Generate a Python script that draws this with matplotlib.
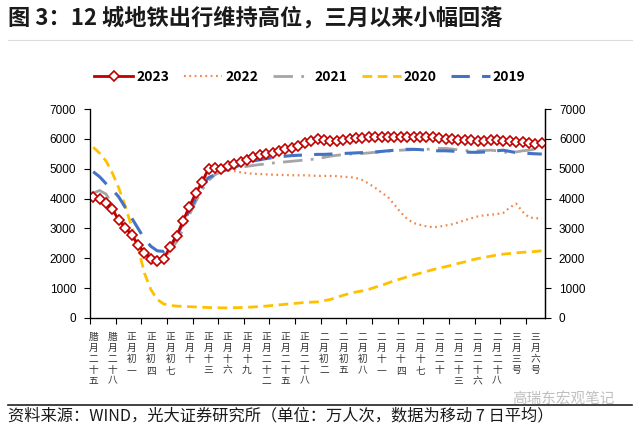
import matplotlib
matplotlib.use("Agg")
import matplotlib.pyplot as plt
from matplotlib.lines import Line2D
import numpy as np

plt.rcParams['font.family'] = ['Noto Sans CJK SC', 'DejaVu Sans']

x_labels = ["腊月二十五", "腊月二十八", "正月初一", "正月初四", "正月初七", "正月十",
            "正月十三", "正月十六", "正月十九", "正月二十二", "正月二十五", "正月二十八",
            "二月初二", "二月初五", "二月初八", "二月十一", "二月十四", "二月十七",
            "二月二十", "二月二十三", "二月二十六", "二月二十八", "三月三号", "三月六号"]

s2023 = [4050, 3970, 3840, 3640, 3270, 3030, 2770, 2460, 2180, 1980,
         1900, 1980, 2380, 2740, 3240, 3730, 4180, 4560, 5000, 5040,
         4980, 5090, 5150, 5230, 5300, 5380, 5460, 5490, 5520, 5600,
         5660, 5710, 5770, 5860, 5930, 5990, 5960, 5930, 5940, 5960,
         6000, 6020, 6040, 6050, 6050, 6060, 6060, 6060, 6060, 6060,
         6070, 6070, 6070, 6060, 6030, 6000, 5980, 5960, 5950, 5950,
         5940, 5940, 5950, 5950, 5930, 5920, 5910, 5900, 5850, 5820,
         5860]
s2022 = [4100, 4000, 3850, 3650, 3400, 3100, 2750, 2400, 2050, 1850,
         1780, 1900, 2300, 2700, 3150, 3650, 4100, 4500, 4850, 4960,
         4970, 4950, 4920, 4880, 4850, 4830, 4820, 4810, 4800, 4790,
         4790, 4780, 4780, 4780, 4770, 4760, 4760, 4760, 4750, 4730,
         4720, 4690, 4620, 4500, 4360, 4200, 4050, 3800, 3530, 3320,
         3180, 3120, 3070, 3040, 3060, 3100, 3140, 3200, 3280, 3340,
         3400, 3440, 3460, 3480, 3520, 3700, 3830, 3560, 3370, 3340,
         3340]
s2021 = [4180, 4270, 4150, 3800, 3450, 3100, 2800, 2450, 2200, 2050,
         2000, 2080, 2250, 2550, 2950, 3450, 3900, 4300, 4600, 4800,
         4900, 4960, 5000, 5040, 5080, 5110, 5140, 5160, 5190, 5210,
         5230, 5250, 5270, 5290, 5310, 5340, 5380, 5420, 5450, 5470,
         5490, 5500, 5510, 5530, 5550, 5570, 5590, 5610, 5620, 5630,
         5640, 5640, 5650, 5660, 5680, 5680, 5660, 5630, 5610, 5600,
         5600, 5610, 5620, 5600, 5560, 5540, 5560, 5600, 5620, 5660,
         5710]
s2020 = [5720, 5520, 5260, 4850, 4350, 3750, 3050, 2350, 1500, 950,
         620, 470, 420, 400, 390, 380, 370, 360, 350, 345,
         340, 340, 345, 350, 360, 370, 385, 400, 420, 440,
         460, 480, 500, 520, 530, 540, 580, 620, 690, 760,
         820, 870, 910, 960, 1030, 1100, 1170, 1250, 1310, 1380,
         1440, 1500, 1560, 1620, 1670, 1720, 1770, 1830, 1880, 1940,
         1990, 2030, 2070, 2110, 2140, 2160, 2180, 2200, 2210, 2230,
         2250]
s2019 = [4900, 4730, 4500, 4300, 4050, 3700, 3350, 3000, 2650, 2400,
         2250, 2230, 2400, 2750, 3150, 3600, 4000, 4450, 4700, 4800,
         4900, 4980, 5050, 5120, 5200, 5260, 5300, 5340, 5370, 5400,
         5420, 5440, 5450, 5460, 5470, 5480, 5480, 5490, 5500, 5510,
         5520, 5530, 5540, 5550, 5560, 5580, 5600, 5620, 5640, 5650,
         5650, 5640, 5620, 5600, 5600, 5600, 5590, 5570, 5560, 5550,
         5550, 5560, 5580, 5600, 5620, 5580, 5540, 5520, 5510, 5500,
         5490]

y_ticks = [0, 1000, 2000, 3000, 4000, 5000, 6000, 7000]
title = "图 3：12 城地铁出行维持高位，三月以来小幅回落"
source = "资料来源：WIND，光大证券研究所（单位：万人次，数据为移动 7 日平均）"

n = len(s2023)
x = np.arange(n)

fig = plt.figure(figsize=(6.4, 4.28), dpi=100)
ax = fig.add_axes([90/640, 1-318/428, 455/640, 209/428])

ax.plot(x, s2022, color='#F08A4B', lw=1.6, ls=(0, (0.8, 1.6)), label='2022', zorder=3)
ax.plot(x, s2021, color='#A5A5A5', lw=2.0, ls=(0, (7, 3, 1, 3)), label='2021', zorder=3)
ax.plot(x, s2020, color='#FFC000', lw=2.0, ls=(0, (3.5, 2)), label='2020', zorder=3)
ax.plot(x, s2019, color='#4472C4', lw=2.2, ls=(0, (6, 4)), label='2019', zorder=3)
ax.plot(x, s2023, color='#C00000', lw=2.0, marker='D', ms=5.4, mfc='white',
        mec='#C00000', mew=1.2, label='2023', zorder=5)

ax.set_xlim(-0.5, n - 0.5)
ax.set_ylim(0, 7000)
ax.set_yticks(y_ticks)
ax.set_yticklabels([str(v) for v in y_ticks], family='Liberation Sans', fontsize=8.5)
ax.tick_params(axis='y', direction='out', length=4, width=0.8, pad=6)

ax.set_xticks(np.arange(-0.5, n - 0.5, 4))
ax.set_xticklabels([])
ax.tick_params(axis='x', which='major', direction='out', length=4, width=0.8)
ax.set_xticks(np.arange(0, 3 * len(x_labels), 3), minor=True)
ax.set_xticklabels(['\n'.join(l) for l in x_labels], minor=True, fontsize=7,
                   linespacing=1.12, va='top', color='#333333')
ax.tick_params(axis='x', which='minor', length=0, pad=10)

for s in ['top']:
    ax.spines[s].set_visible(False)
for s in ['left', 'right', 'bottom']:
    ax.spines[s].set_linewidth(0.9)

ax2 = ax.twinx()
ax2.set_ylim(0, 7000)
ax2.set_yticks(y_ticks)
ax2.set_yticklabels([str(v) for v in y_ticks], family='Liberation Sans', fontsize=8.5)
ax2.tick_params(axis='y', direction='out', length=4, width=0.8, pad=6)
ax2.spines['top'].set_visible(False)
ax2.spines['right'].set_linewidth(0.9)

handles = [
    Line2D([], [], color='#C00000', lw=2.0, marker='D', ms=5.4, mfc='white', mec='#C00000', mew=1.2),
    Line2D([], [], color='#F08A4B', lw=1.6, ls=(0, (0.8, 1.6))),
    Line2D([], [], color='#A5A5A5', lw=2.0, ls=(0, (7, 3, 1, 3))),
    Line2D([], [], color='#FFC000', lw=2.0, ls=(0, (3.5, 2))),
    Line2D([], [], color='#4472C4', lw=2.2, ls=(0, (6, 4))),
]
leg = fig.legend(handles, ['2023', '2022', '2021', '2020', '2019'], ncol=5,
                 loc='center', bbox_to_anchor=(310/640, 1-77/428), frameon=False,
                 handlelength=2.8, handletextpad=0.2, columnspacing=1.05, numpoints=1,
                 prop={'family': ['Noto Sans CJK SC'], 'weight': 'bold', 'size': 10})

fig.text(8/640, 1-18/428, title, fontsize=16, fontweight='bold', va='center', ha='left', color='#1a1a1a')
fig.add_artist(Line2D([8/640, 632/640], [1-40/428, 1-40/428], color='#DDDDDD', lw=0.8))
fig.add_artist(Line2D([8/640, 632/640], [1-405/428, 1-405/428], color='#222222', lw=1.2))
fig.text(512/640, 1-399/428, "高瑞东宏观笔记", fontsize=10.5, color='#B8B8B8', va='center', ha='left', alpha=0.9)
fig.text(8/640, 1-416/428, source, fontsize=11.7, va='center', ha='left', color='#1a1a1a')

fig.savefig('out.png', dpi=100)
